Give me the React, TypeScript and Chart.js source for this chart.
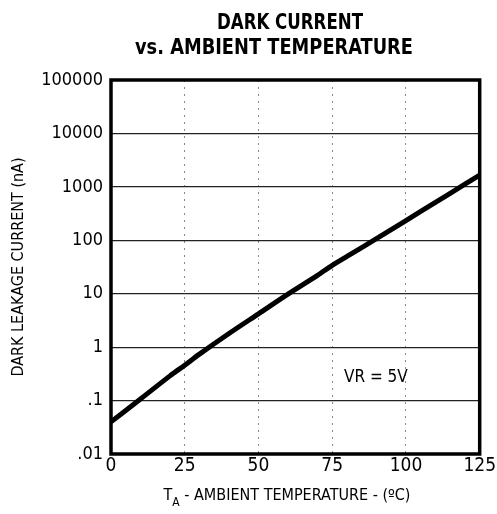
import React, { useEffect, useRef } from "react";
import { Chart, registerables } from "chart.js";
Chart.register(...registerables);

const temps = [0, 10, 20, 25, 30, 40, 50, 60, 70, 75, 80, 90, 100, 110, 120, 125];
const darkCurrent = [0.04, 0.107, 0.29, 0.46, 0.74, 1.8, 4.2, 9.8, 22, 34, 50, 107, 234, 513, 1120, 1660];
const xTicks = [0, 25, 50, 75, 100, 125];
const yTicks = [0.01, 0.1, 1, 10, 100, 1000, 10000, 100000];
const yTickLabels = [".01", ".1", "1", "10", "100", "1000", "10000", "100000"];
const titleLines = ["DARK CURRENT", "vs. AMBIENT TEMPERATURE"];
const yAxisTitle = "DARK LEAKAGE CURRENT (nA)";
const annotation = "VR = 5V";

const FONT = "'Liberation Sans Narrow', 'DejaVu Sans Condensed', 'Roboto Condensed', Arial, sans-serif";

function scaledText(c: any, text: string, cx: number, y: number, width: number) {
  const w = c.measureText(text).width;
  const s = width / w;
  c.save();
  c.translate(cx, y);
  c.scale(s, 1);
  c.textAlign = "center";
  c.fillText(text, 0, 0);
  c.restore();
}

export default function App() {
  const ref = useRef<HTMLCanvasElement>(null);
  useEffect(() => {
    document.body.style.margin = "0";
    const ctx = ref.current!;
    const overlay = {
      id: "overlay",
      afterDatasetsDraw(chart: any) {
        const c = chart.ctx;
        const { left, right, top, bottom } = chart.chartArea;
        const xs = chart.scales.x;
        const ys = chart.scales.y;
        c.save();
        // frame
        c.strokeStyle = "#000";
        c.lineWidth = 3.5;
        c.strokeRect(left, top, right - left, bottom - top);
        // annotation
        c.fillStyle = "#000";
        c.font = `17px ${FONT}`;
        c.textAlign = "left";
        c.textBaseline = "middle";
        c.fillText(annotation, xs.getPixelForValue(79), ys.getPixelForValue(0.265));
        // title
        c.textBaseline = "alphabetic";
        c.font = `bold 22px ${FONT}`;
        scaledText(c, titleLines[0], 290, 29, 146);
        scaledText(c, titleLines[1], 274, 54, 278);
        // x axis title with subscript
        const main = " - AMBIENT TEMPERATURE - (ºC)";
        c.font = `16px ${FONT}`;
        const wT = c.measureText("T").width;
        c.font = `12px ${FONT}`;
        const wA = c.measureText("A").width;
        c.font = `16px ${FONT}`;
        const wM = c.measureText(main).width;
        const total = wT + wA + wM;
        const x0 = 287 - total / 2;
        const yb = 500;
        c.textAlign = "left";
        c.fillText("T", x0, yb);
        c.font = `12px ${FONT}`;
        c.fillText("A", x0 + wT, yb + 6);
        c.font = `16px ${FONT}`;
        c.fillText(main, x0 + wT + wA, yb);
        c.restore();
      },
    };
    const chart = new Chart(ctx, {
      type: "line",
      data: {
        datasets: [
          {
            data: temps.map((t, i) => ({ x: t, y: darkCurrent[i] })),
            borderColor: "#000",
            borderWidth: 5,
            pointRadius: 0,
            tension: 0.3,
            fill: false,
          },
        ],
      },
      options: {
        animation: false,
        responsive: false,
        maintainAspectRatio: false,
        layout: { padding: { left: 0, right: 16, top: 80, bottom: 0 } },
        plugins: { legend: { display: false }, tooltip: { enabled: false }, title: { display: false } },
        scales: {
          x: {
            type: "linear",
            min: 0,
            max: 125,
            afterBuildTicks: (s: any) => {
              s.ticks = xTicks.map((v) => ({ value: v }));
            },
            afterFit: (s: any) => {
              s.height = 60;
            },
            ticks: {
              color: "#000",
              font: { family: FONT, size: 19 },
              padding: 1,
              maxRotation: 0,
              callback: (v: any) => String(v),
            },
            grid: {
              color: "#888",
              lineWidth: 1,
              drawTicks: false,
            },
            border: { display: false, dash: [2, 5] },
          },
          y: {
            type: "logarithmic",
            min: 0.01,
            max: 100000,
            afterBuildTicks: (s: any) => {
              s.ticks = yTicks.map((v) => ({ value: v }));
            },
            afterFit: (s: any) => {
              s.width = 111;
            },
            ticks: {
              color: "#000",
              font: { family: FONT, size: 18 },
              padding: 8,
              callback: (v: any) => {
                const i = yTicks.findIndex((t) => Math.abs(Math.log10(t) - Math.log10(v)) < 1e-6);
                return i >= 0 ? yTickLabels[i] : "";
              },
            },
            grid: { color: "#222", lineWidth: 1.2, drawTicks: false },
            border: { display: false },
            title: {
              display: true,
              text: yAxisTitle,
              color: "#000",
              font: { family: FONT, size: 16 },
              padding: { top: 9, bottom: 0 },
            },
          },
        },
      },
      plugins: [overlay],
    } as any);
    return () => chart.destroy();
  }, []);
  return (
    <div style={{ position: "fixed", left: 0, top: 0, width: 497, height: 514 }}>
      <canvas ref={ref} width={497} height={514} />
    </div>
  );
}
